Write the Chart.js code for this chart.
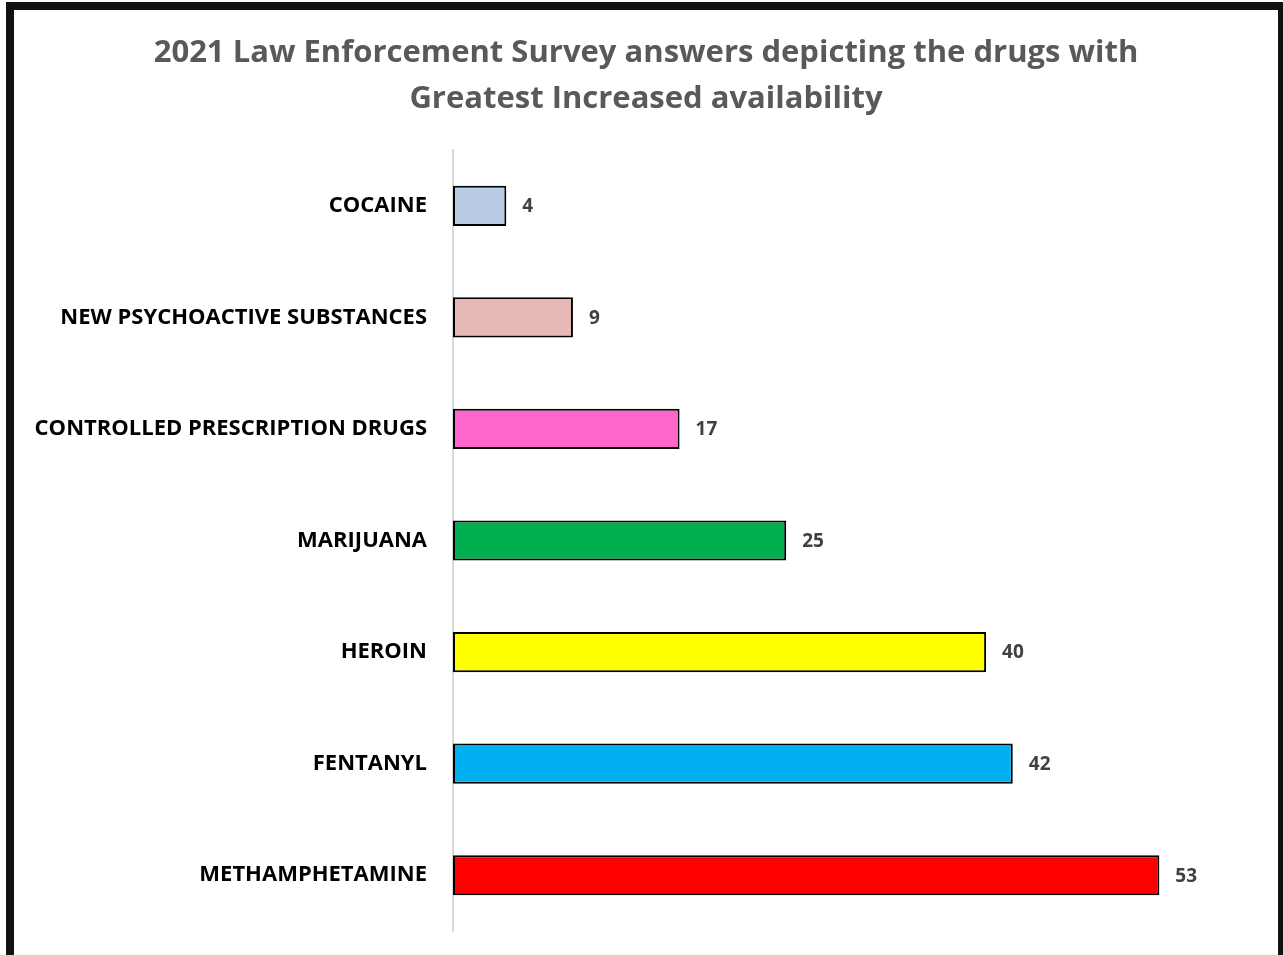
<!DOCTYPE html>
<html>
<head>
<meta charset="utf-8">
<script src="https://cdn.jsdelivr.net/npm/chart.js@4"></script>
<style>
  html, body { margin: 0; padding: 0; background: #fff; overflow: hidden; }
  body { width: 1283px; height: 955px; position: relative; }
  .frame {
    position: absolute; left: 6px; top: 2px;
    width: 1264px; height: 1000px;
    border: 8px solid #111;
    box-sizing: content-box;
  }
  .chart-box { position: absolute; left: 0; top: 0; width: 1264px; height: 945px; }
</style>
</head>
<body>
<div class="frame">
  <div class="chart-box"><canvas id="myChart"></canvas></div>
</div>
<script>
const categories = [
  "COCAINE",
  "NEW PSYCHOACTIVE SUBSTANCES",
  "CONTROLLED PRESCRIPTION DRUGS",
  "MARIJUANA",
  "HEROIN",
  "FENTANYL",
  "METHAMPHETAMINE"
];
const values = [4, 9, 17, 25, 40, 42, 53];
const barColors = ["#b8cce4", "#e6b9b8", "#ff66cc", "#00b050", "#ffff00", "#00b0f0", "#ff0000"];
const titleLines = [
  "2021 Law Enforcement Survey answers depicting the drugs with",
  "Greatest Increased availability"
];

// draws the value to the right of every bar
const valueLabels = {
  id: "valueLabels",
  afterDatasetsDraw(chart) {
    const ctx = chart.ctx;
    const meta = chart.getDatasetMeta(0);
    ctx.save();
    ctx.font = "bold 19px 'Open Sans'";
    ctx.fillStyle = "#404040";
    ctx.textAlign = "left";
    ctx.textBaseline = "middle";
    meta.data.forEach((bar, i) => {
      ctx.fillText(values[i], bar.x + 16, bar.y + 1);
    });
    ctx.restore();
  }
};

const config = {
  type: "bar",
  data: {
    labels: categories,
    datasets: [
      {
        data: values,
        backgroundColor: barColors,
        borderColor: "#000",
        borderWidth: 2,
        borderSkipped: false,
        barPercentage: 0.36,
        categoryPercentage: 1
      }
    ]
  },
  options: {
    indexAxis: "y",
    responsive: true,
    maintainAspectRatio: false,
    animation: false,
    layout: {
      padding: { left: 20, right: 20, top: 0, bottom: 24 }
    },
    plugins: {
      legend: { display: false },
      tooltip: { enabled: false },
      title: {
        display: true,
        text: titleLines,
        color: "#595959",
        font: { family: "'Open Sans'", size: 31, weight: "bold", lineHeight: 1.484 },
        padding: { top: 20, bottom: 28 }
      }
    },
    scales: {
      x: {
        min: 0,
        max: 60.4,
        display: false
      },
      y: {
        grid: { display: false },
        border: { display: true, color: "#d9d9d9", width: 2 },
        ticks: {
          color: "#000",
          padding: 18,
          font: { family: "'Open Sans'", size: 22, weight: "bold" }
        },
        afterFit(scale) {
          scale.width = 419;
          scale.paddingTop = 0;
          scale.paddingBottom = 0;
        }
      }
    }
  },
  plugins: [valueLabels]
};

const ctx = document.getElementById("myChart").getContext("2d");
new Chart(ctx, config);
</script>
</body>
</html>
